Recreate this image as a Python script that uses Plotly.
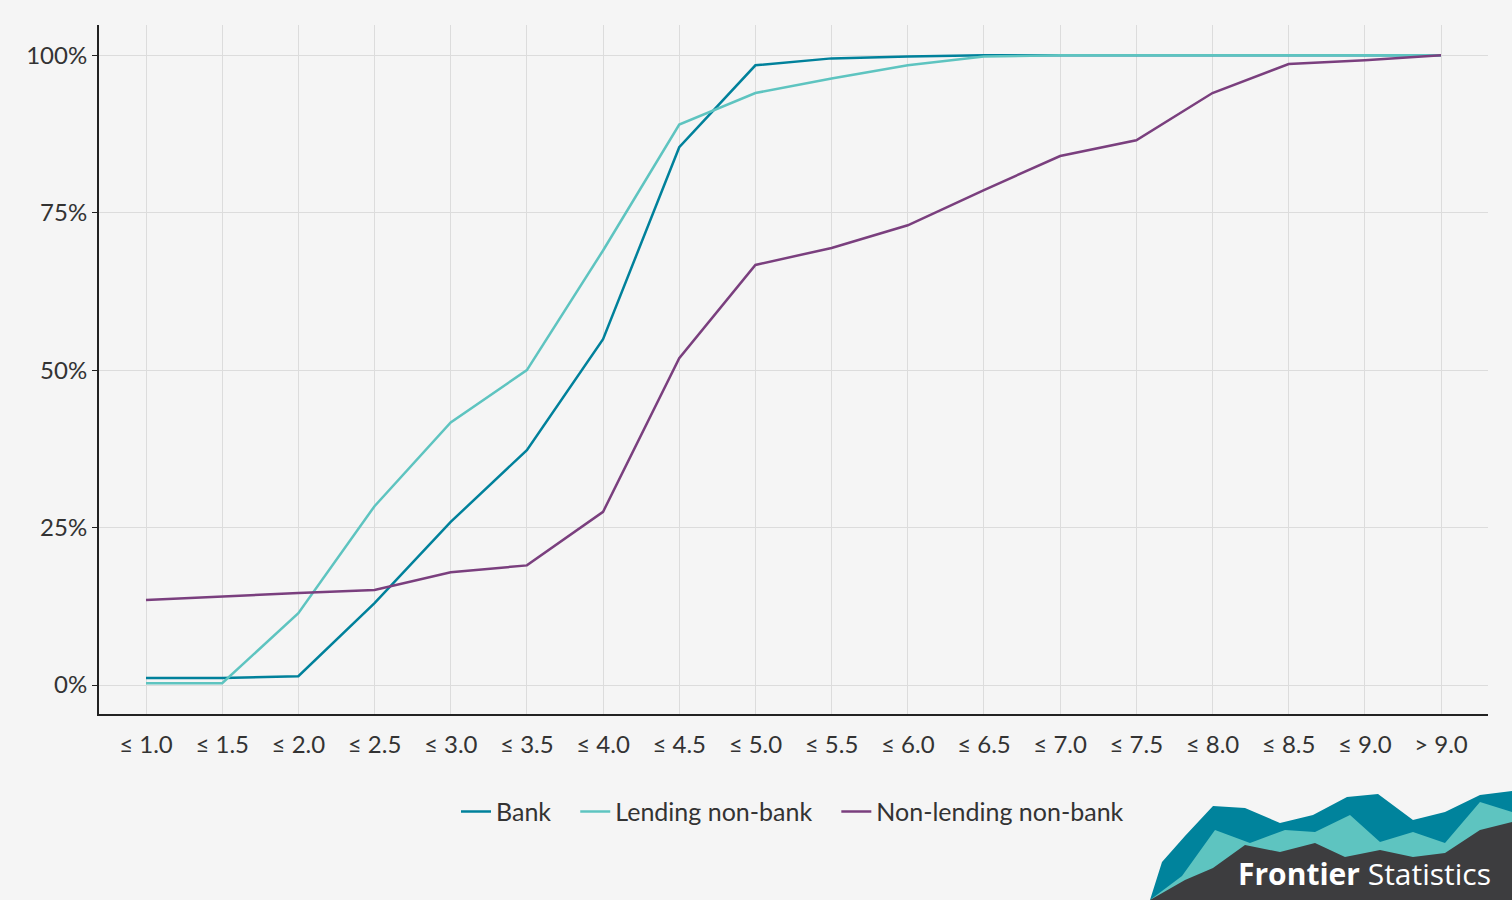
import plotly.graph_objects as go

categories = ["≤ 1.0","≤ 1.5","≤ 2.0","≤ 2.5","≤ 3.0","≤ 3.5","≤ 4.0","≤ 4.5","≤ 5.0","≤ 5.5","≤ 6.0","≤ 6.5","≤ 7.0","≤ 7.5","≤ 8.0","≤ 8.5","≤ 9.0","> 9.0"]
bank = [1.1,1.1,1.4,13.0,25.9,37.3,54.9,85.4,98.4,99.5,99.8,100,100,100,100,100,100,100]
lending = [0.3,0.3,11.4,28.4,41.7,50.0,69.0,89.0,94.0,96.3,98.4,99.8,100,100,100,100,100,100]
nonlending = [13.5,14.1,14.6,15.1,17.9,19.0,27.5,51.9,66.7,69.4,73.0,78.6,84.0,86.5,94.0,98.6,99.2,100]

W, H = 1512, 900
L, R, T, B = 99, 24, 25, 186
pw, ph = W - L - R, H - T - B

fig = go.Figure()
for name, vals, col in [("Bank", bank, "#00819b"), ("Lending non-bank", lending, "#5ec4c0"), ("Non-lending non-bank", nonlending, "#7a3f7e")]:
    fig.add_trace(go.Scatter(x=list(range(len(categories))), y=vals, name=name + "   ", mode="lines",
                             line=dict(color=col, width=2.5)))

def path(pts):
    s = ""
    for i, (px, py) in enumerate(pts):
        xp = (px - L) / pw
        yp = (H - B - py) / ph
        s += ("M" if i == 0 else "L") + f"{xp:.5f},{yp:.5f} "
    return s + "Z"

dark = [(1150,900),(1162,862),(1185,836),(1213,806),(1245,808),(1280,823),(1313,815),(1347,797),(1378,794),(1413,820),(1445,812),(1480,795),(1512,791),(1512,900)]
light = [(1150,900),(1182,876),(1215,830),(1250,843),(1285,830),(1315,832),(1350,815),(1380,842),(1413,832),(1445,843),(1480,802),(1512,812),(1512,900)]
gray = [(1150,900),(1185,880),(1213,868),(1245,845),(1280,852),(1315,843),(1345,857),(1380,850),(1413,857),(1445,853),(1480,830),(1512,822),(1512,900)]
shapes = []
for pts, c in [(dark, "#00839c"), (light, "#5ec4c0"), (gray, "#3d3d3f")]:
    shapes.append(dict(type="path", xref="paper", yref="paper", path=path(pts), fillcolor=c, line=dict(width=0), layer="above"))

fig.update_layout(
    width=W, height=H, margin=dict(l=L, r=R, t=T, b=B),
    paper_bgcolor="#f5f5f5", plot_bgcolor="#f5f5f5",
    font=dict(family="Lato", size=24, color="#333333"),
    xaxis=dict(tickmode="array", tickvals=list(range(len(categories))), ticktext=categories,
               range=[-0.617, 17.617], showgrid=True, gridcolor="#dcdcdc", gridwidth=1,
               showline=True, linecolor="#222222", linewidth=2, ticks="outside", ticklen=8, tickcolor="rgba(0,0,0,0)",
               zeroline=False, tickfont=dict(size=24)),
    yaxis=dict(range=[-4.6, 104.8], tickvals=[0,25,50,75,100], ticktext=["0%","25%","50%","75%","100%"],
               showgrid=True, gridcolor="#dcdcdc", showline=True, linecolor="#222222", linewidth=2,
               ticks="outside", ticklen=5, tickcolor="#222222", zeroline=False, tickfont=dict(size=24)),
    legend=dict(orientation="h", x=(802-L)/pw, xanchor="center", y=-0.142, yanchor="middle",
                font=dict(size=25), bgcolor="rgba(0,0,0,0)"),
    shapes=shapes,
    annotations=[dict(xref="paper", yref="paper", x=(1493-L)/pw, y=(H-B-873)/ph, xanchor="right", yanchor="middle",
                      text="<b>Frontier</b> Statistics", showarrow=False, font=dict(size=30, color="white", family="Open Sans"))],
)
fig.write_html("out.html", config={"displayModeBar": False},
               post_script="document.body.style.margin='0';document.body.style.background='#f5f5f5';")
